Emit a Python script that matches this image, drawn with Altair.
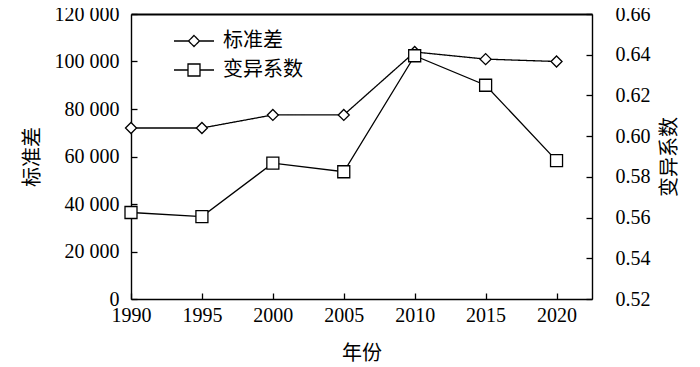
import altair as alt
import pandas as pd

years = [1990, 1995, 2000, 2005, 2010, 2015, 2020]
std_dev = [72000, 72000, 77500, 77500, 104000, 101000, 100000]
cv = [0.5625, 0.5605, 0.5867, 0.5825, 0.6395, 0.625, 0.588]
series_names = ["标准差", "变异系数"]
x_ticks = [1990, 1995, 2000, 2005, 2010, 2015, 2020]
left_ticks = [0, 20000, 40000, 60000, 80000, 100000, 120000]
right_ticks = [0.52, 0.54, 0.56, 0.58, 0.60, 0.62, 0.64, 0.66]

df = pd.DataFrame({"year": years, "std": std_dev, "cv": cv})

W, H = 461, 285
SERIF = "Liberation Serif"
CJK = "Noto Sans CJK SC"
FS = 20
INWARD = {"expr": "-6"}

xs = alt.Scale(domain=[1990, 2022.5], nice=False, zero=False)
ls = alt.Scale(domain=[0, 120000], nice=False)
rs = alt.Scale(domain=[0.52, 0.66], nice=False, zero=False)

common_axis = dict(grid=False, domain=True, domainColor="black", domainWidth=1.4,
                   ticks=True, tickSize=INWARD, tickColor="black", tickWidth=1.3,
                   labelFont=SERIF, labelFontSize=FS, labelColor="black",
                   titleFont=CJK, titleFontSize=20, titleFontWeight="normal",
                   titleColor="black")

x_bottom = alt.X("year:Q", scale=xs, axis=alt.Axis(
    orient="bottom", values=x_ticks, format="d", labelFlush=False,
    labelPadding=12, title="年份", titlePadding=18, **common_axis))
x_top = alt.X("year:Q", scale=xs, axis=alt.Axis(
    orient="top", labels=False, ticks=False, grid=False, domain=True,
    domainColor="black", domainWidth=1.8, title=None))

# legend symbols: a short line with the marker in its middle
diamond_path = "M-1,0L-0.275,0M0.275,0L1,0M-0.275,0L0,-0.275L0.275,0L0,0.275Z"
square_path = "M-1,0L-0.3,0M0.3,0L1,0M-0.3,-0.3L0.3,-0.3L0.3,0.3L-0.3,0.3Z"
leg_common = dict(orient="none", legendX=42, title=None, symbolSize=1600,
                  symbolStrokeWidth=1.3, symbolStrokeColor="black",
                  symbolFillColor="white", labelFont=CJK, labelFontSize=20,
                  labelColor="black", labelOffset=8, padding=0)
std_legend = alt.Legend(legendY=6, symbolType=diamond_path, **leg_common)
cv_legend = alt.Legend(legendY=35, symbolType=square_path, **leg_common)

std_base = alt.Chart(df).transform_calculate(series="'标准差'")
cv_base = alt.Chart(df).transform_calculate(series="'变异系数'")

std_y_axis = alt.Axis(
    orient="left", values=left_ticks,
    labelExpr="replace(format(datum.value, ','), ',', ' ')",
    labelPadding=18, title="标准差", titlePadding=12, **common_axis)
cv_y_axis = alt.Axis(
    orient="right", values=right_ticks, format=".2f",
    labelPadding=29, title="变异系数", titlePadding=29, titleAngle=270,
    **common_axis)

std_line = std_base.mark_line(color="black", strokeWidth=1.3).encode(
    x=x_bottom,
    y=alt.Y("std:Q", scale=ls, axis=std_y_axis),
    strokeDash=alt.StrokeDash("series:N",
                              scale=alt.Scale(domain=[series_names[0]], range=[[1, 0]]),
                              legend=std_legend))
std_pts = std_base.mark_point(shape="diamond", size=121, fill="white", stroke="black",
                              strokeWidth=1.3, opacity=1, filled=False).encode(
    x=x_bottom, y=alt.Y("std:Q", scale=ls))
std_layer = alt.layer(std_line, std_pts)

cv_line = cv_base.mark_line(color="black", strokeWidth=1.3).encode(
    x=x_top,
    y=alt.Y("cv:Q", scale=rs, axis=cv_y_axis),
    opacity=alt.Opacity("series:N",
                        scale=alt.Scale(domain=[series_names[1]], range=[1]),
                        legend=cv_legend))
cv_pts = cv_base.mark_point(shape="square", size=144, fill="white", stroke="black",
                            strokeWidth=1.3, opacity=1, filled=False).encode(
    x=x_top, y=alt.Y("cv:Q", scale=rs))
cv_layer = alt.layer(cv_line, cv_pts)

chart = alt.layer(std_layer, cv_layer).resolve_scale(
    y="independent"
).resolve_axis(x="independent", y="independent").properties(
    width=W, height=H,
    autosize=alt.AutoSizeParams(type="none"),
    padding={"left": 123, "top": 6, "right": 100, "bottom": 70},
).configure_view(strokeWidth=0).configure(background="white")

chart.save("out.html", embed_options={"renderer": "svg", "actions": False})
